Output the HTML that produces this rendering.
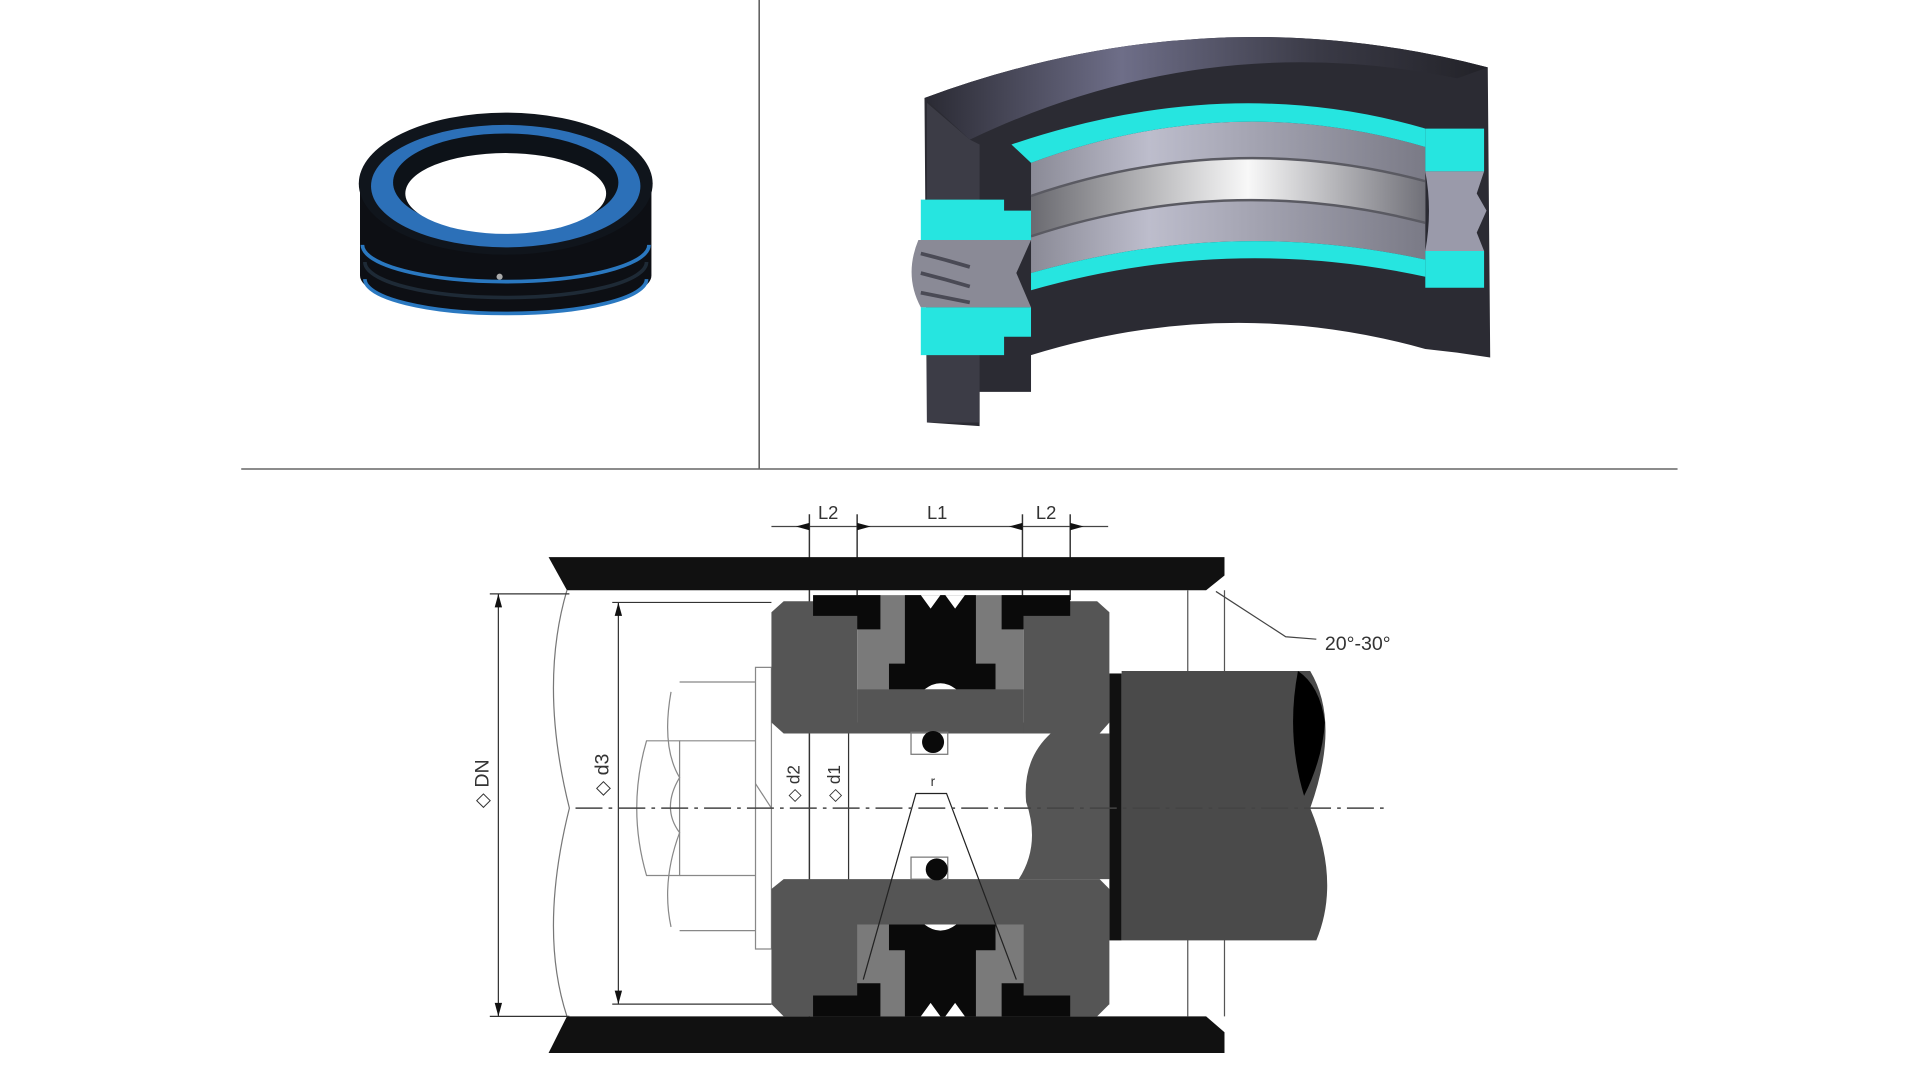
<!DOCTYPE html>
<html><head><meta charset="utf-8"><style>
html,body{margin:0;padding:0;background:#fff;width:1920px;height:1080px;overflow:hidden}
svg{display:block}
text{font-family:"Liberation Sans",sans-serif;fill:#333}
</style></head><body>
<svg width="1920" height="1080" viewBox="0 0 1568 882" preserveAspectRatio="none">
<defs>
<linearGradient id="dk" x1="0" y1="0" x2="1" y2="0">
<stop offset="0" stop-color="#2a2a33"/><stop offset="0.35" stop-color="#6e6e88"/><stop offset="0.7" stop-color="#3a3a46"/><stop offset="1" stop-color="#222228"/></linearGradient>
<linearGradient id="gr" x1="0" y1="0" x2="1" y2="0">
<stop offset="0" stop-color="#6a6a70"/><stop offset="0.55" stop-color="#f8f8f8"/><stop offset="1" stop-color="#707078"/></linearGradient>
<linearGradient id="gr2" x1="0" y1="0" x2="1" y2="0">
<stop offset="0" stop-color="#8a8a96"/><stop offset="0.3" stop-color="#bdbdcc"/><stop offset="1" stop-color="#7a7a86"/></linearGradient>
</defs>
<rect width="1568" height="882" fill="#fff"/>
<line x1="620" y1="0" x2="620" y2="383" stroke="#555" stroke-width="1.2"/>
<line x1="197" y1="383" x2="1370" y2="383" stroke="#666" stroke-width="1.2"/>

<!-- small ring -->
<path d="M294,150 L294,225 A119,30 0 0 0 532,225 L532,150 Z" fill="#0d0f14"/>
<path d="M296,200 A117,30 0 0 0 530,200" fill="none" stroke="#2a78c0" stroke-width="3"/>
<path d="M298,228 A115,28 0 0 0 528,228" fill="none" stroke="#2a78c0" stroke-width="3"/>
<path d="M298,214 A115,29 0 0 0 528,214" fill="none" stroke="#1e2a36" stroke-width="3"/>
<ellipse cx="413" cy="150" rx="120" ry="58" fill="#10151c"/>
<ellipse cx="413" cy="152" rx="110" ry="50" fill="#2c70b8"/>
<ellipse cx="413" cy="149" rx="92" ry="40" fill="#0d1218"/>
<ellipse cx="413" cy="158" rx="82" ry="33" fill="#fff"/>
<circle cx="408" cy="226" r="2.5" fill="#aaa"/>

<!-- 3D cutaway -->
<path d="M755,80 Q985,-5 1215,55 L1217,292 L1190,288 L1164,285 Q1003,240 842,290 L842,320 L800,320 L800,348 L757,345 Z" fill="#2b2b33"/>
<path d="M755,80 Q985,-5 1215,55 L1190,64 Q985,22 792,114 Z" fill="url(#dk)"/>
<path d="M757,84 L792,114 L800,118 L800,345 L757,345 Z" fill="#3c3c46"/>
<!-- gray middle -->
<path d="M842,133 Q1003,73 1164,120 L1164,212 Q1003,177 842,223 Z" fill="url(#gr2)"/>
<path d="M842,160 Q1003,105 1164,148 L1164,182 Q1003,140 842,193 Z" fill="url(#gr)"/>
<path d="M842,160 Q1003,105 1164,148" fill="none" stroke="#5a5a62" stroke-width="2"/>
<path d="M842,193 Q1003,140 1164,182" fill="none" stroke="#5a5a62" stroke-width="2"/>
<!-- cyan upper -->
<path d="M826,118 Q1003,58 1164,105 L1164,120 Q1003,73 842,133 Z" fill="#26e5e0"/>
<!-- cyan lower -->
<path d="M842,223 Q1003,177 1164,212 L1164,226 Q1003,191 842,237 Z" fill="#26e5e0"/>
<!-- right face -->
<path d="M1164,105 L1212,105 L1212,140 L1164,140 Z" fill="#26e5e0"/>
<path d="M1164,140 L1212,140 L1206,158 L1214,172 L1206,190 L1212,205 L1164,205 Q1170,172 1164,140 Z" fill="#9a9aaa"/>
<path d="M1164,205 L1212,205 L1212,235 L1164,235 Z" fill="#26e5e0"/>
<!-- left face -->
<path d="M752,163 L820,163 L820,172 L842,172 L842,196 L752,196 Z" fill="#26e5e0"/>
<path d="M750,196 L842,196 L830,223 L842,251 L752,251 Q738,225 750,196 Z" fill="#8a8a96"/>
<path d="M752,207 Q772,212 792,218 M752,223 Q772,228 792,234 M752,239 Q772,243 792,247" stroke="#4a4a55" stroke-width="3" fill="none"/>
<path d="M752,251 L842,251 L842,275 L820,275 L820,290 L752,290 Z" fill="#26e5e0"/>

<!-- ===== bottom drawing ===== -->
<line x1="630" y1="430" x2="905" y2="430" stroke="#444" stroke-width="1"/>
<text x="668" y="424" font-size="15">L2</text>
<text x="757" y="424" font-size="15">L1</text>
<text x="846" y="424" font-size="15">L2</text>
<g stroke="#333" stroke-width="1.2">
<line x1="661" y1="420" x2="661" y2="830"/>
<line x1="700" y1="420" x2="700" y2="490"/>
<line x1="835" y1="420" x2="835" y2="490"/>
<line x1="874" y1="420" x2="874" y2="490"/>
</g>
<g fill="#111">
<path d="M650,430 l11,-3 v6z"/><path d="M711,430 l-11,-3 v6z"/><path d="M824,430 l11,-3 v6z"/><path d="M885,430 l-11,-3 v6z"/>
</g>
<path d="M448,455 L1000,455 L1000,470 L985,482 L463,482 Z" fill="#111"/>
<path d="M463,830 L985,830 L1000,843 L1000,860 L448,860 Z" fill="#111"/>
<line x1="970" y1="482" x2="970" y2="830" stroke="#555" stroke-width="1"/>
<line x1="1000" y1="482" x2="1000" y2="830" stroke="#555" stroke-width="1"/>
<path d="M463,482 Q440,560 465,660 Q440,760 463,830" fill="none" stroke="#777" stroke-width="1"/>
<path d="M993,483 L1050,520 L1075,522" fill="none" stroke="#444" stroke-width="1"/>
<text x="1082" y="531" font-size="16">20°-30°</text>
<g fill="none" stroke="#888" stroke-width="1">
<path d="M617,545 L617,775 L630,775 L630,545 Z"/>
<path d="M555,557 L617,557 M555,760 L617,760 M548,565 Q540,610 555,635 Q540,660 555,680 Q540,720 548,757"/>
<path d="M528,605 L555,605 L555,715 L528,715 Q512,660 528,605 Z"/>
<path d="M555,605 L617,605 M555,715 L617,715"/>
<path d="M617,640 L630,660"/>
</g>
<g stroke="#333" stroke-width="1">
<line x1="407" y1="485" x2="407" y2="830"/>
<line x1="400" y1="485" x2="465" y2="485"/>
<line x1="400" y1="830" x2="465" y2="830"/>
<line x1="505" y1="492" x2="505" y2="820"/>
<line x1="500" y1="492" x2="630" y2="492"/>
<line x1="500" y1="820" x2="630" y2="820"/>
<line x1="693" y1="562" x2="693" y2="757"/>
</g>
<g fill="#111"><path d="M407,485 l-3,11 h6z"/><path d="M407,830 l-3,-11 h6z"/><path d="M505,492 l-3,11 h6z"/><path d="M505,820 l-3,-11 h6z"/></g>
<text font-size="16" transform="translate(399,660) rotate(-90)">◇ DN</text>
<text font-size="16" transform="translate(497,650) rotate(-90)">◇ d3</text>
<text font-size="14" transform="translate(653,655) rotate(-90)">◇ d2</text>
<text font-size="14" transform="translate(686,655) rotate(-90)">◇ d1</text>
<path d="M640,491 L700,491 L700,590 L836,590 L836,491 L896,491 L906,500 L906,590 L898,599 L640,599 L630,590 L630,500 Z" fill="#555"/>
<path d="M700,486 L836,486 L836,590 L700,590 Z" fill="#7a7a7a"/>
<path d="M664,486 L719,486 L719,514 L700,514 L700,503 L664,503 Z" fill="#0a0a0a"/>
<path d="M818,486 L874,486 L874,503 L836,503 L836,514 L818,514 Z" fill="#0a0a0a"/>
<path d="M739,486 L797,486 L797,542 L813,542 L813,563 L726,563 L726,542 L739,542 Z" fill="#0a0a0a"/>
<path d="M752,486 l8,11 l8,-11z M772,486 l8,11 l8,-11z" fill="#fff"/>
<path d="M755,563 q13,-10 26,0z" fill="#fff"/>
<rect x="700" y="563" width="136" height="36" fill="#555"/>
<path d="M640,718 L898,718 L906,726 L906,820 L896,830 L640,830 L630,820 L630,726 Z" fill="#555"/>
<path d="M700,755 L836,755 L836,830 L700,830 Z" fill="#7a7a7a"/>
<path d="M664,813 L700,813 L700,803 L719,803 L719,830 L664,830 Z" fill="#0a0a0a"/>
<path d="M836,803 L836,813 L874,813 L874,830 L818,830 L818,803 Z" fill="#0a0a0a"/>
<path d="M726,755 L813,755 L813,776 L797,776 L797,830 L739,830 L739,776 L726,776 Z" fill="#0a0a0a"/>
<path d="M752,830 l8,-11 l8,11z M772,830 l8,-11 l8,11z" fill="#fff"/>
<path d="M755,755 q13,10 26,0z" fill="#fff"/>
<path d="M858,599 L906,599 L906,718 L832,718 Q850,690 838,655 Q835,620 858,599 Z" fill="#555"/>
<rect x="744" y="598" width="30" height="18" fill="none" stroke="#777" stroke-width="1"/>
<circle cx="762" cy="606" r="9" fill="#0a0a0a"/>
<rect x="744" y="700" width="30" height="18" fill="none" stroke="#777" stroke-width="1"/>
<circle cx="765" cy="710" r="9" fill="#0a0a0a"/>
<path d="M705,800 L748,648 L773,648 L830,800" fill="none" stroke="#222" stroke-width="1"/>
<text x="760" y="642" font-size="11">r</text>
<rect x="906" y="550" width="10" height="218" fill="#111"/>
<path d="M916,548 L1070,548 Q1095,590 1070,660 Q1095,720 1075,768 L916,768 Z" fill="#4a4a4a"/>
<path d="M1060,548 Q1050,600 1065,650 Q1080,620 1082,590 Q1078,560 1060,548Z" fill="#000"/>
<line x1="470" y1="660" x2="1130" y2="660" stroke="#444" stroke-width="1.2" stroke-dasharray="22,5,3,5"/>
</svg>
</body></html>
